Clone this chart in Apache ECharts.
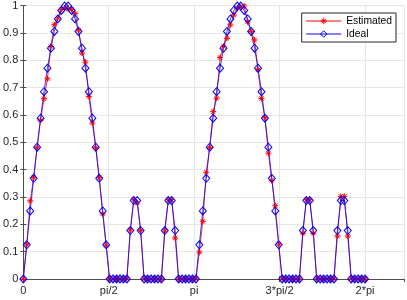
<!DOCTYPE html>
<html>
<head>
<meta charset="utf-8">
<script src="https://cdn.jsdelivr.net/npm/echarts@6/dist/echarts.min.js"></script>
<style>
html,body{margin:0;padding:0;background:#fff;}
#chart{width:407px;height:300px;}
</style>
</head>
<body>
<div id="chart"></div>
<script>
// sample positions (radians)
const xValues = [
0,0.0635,0.1269,0.1904,0.2539,0.3173,0.3808,0.4443,0.5077,0.5712,
0.6347,0.6981,0.7616,0.8251,0.8885,0.9520,1.0155,1.0789,1.1424,1.2059,
1.2693,1.3328,1.3963,1.4597,1.5232,1.5867,1.6501,1.7136,1.7771,1.8405,
1.9040,1.9675,2.0309,2.0944,2.1579,2.2213,2.2848,2.3483,2.4117,2.4752,
2.5387,2.6021,2.6656,2.7291,2.7925,2.8560,2.9195,2.9829,3.0464,3.1099,
3.1733,3.2368,3.3003,3.3637,3.4272,3.4907,3.5541,3.6176,3.6811,3.7445,
3.8080,3.8715,3.9349,3.9984,4.0619,4.1253,4.1888,4.2523,4.3157,4.3792,
4.4427,4.5061,4.5696,4.6331,4.6965,4.7600,4.8235,4.8869,4.9504,5.0139,
5.0773,5.1408,5.2043,5.2677,5.3312,5.3947,5.4581,5.5216,5.5851,5.6485,
5.7120,5.7755,5.8389,5.9024,5.9659,6.0293,6.0928,6.1563,6.2197,6.2832
];
const estimated = [
0,0.125,0.286,0.37,0.48,0.58,0.659,0.732,0.85,0.93,
0.955,0.985,0.99,0.988,0.985,0.971,0.91,0.826,0.793,0.667,
0.57,0.48,0.37,0.238,0.123,0,0,0,0,0,
0,0.18,0.29,0.278,0.178,0,0,0,0,0,
0,0.175,0.29,0.29,0.15,0,0,0,0,0,
0,0.098,0.211,0.39,0.48,0.612,0.661,0.81,0.85,0.88,
0.929,0.965,0.99,0.995,0.998,0.94,0.905,0.874,0.765,0.66,
0.59,0.46,0.36,0.268,0.128,0,0,0,0,0,
0,0.167,0.29,0.29,0.167,0,0,0,0,0,
0,0.157,0.302,0.302,0.157,0,0,0,0,0
];
const ideal = [
0,0.125,0.249,0.368,0.482,0.588,0.685,0.771,0.844,0.905,
0.951,0.982,0.998,0.998,0.982,0.951,0.905,0.844,0.771,0.685,
0.588,0.482,0.368,0.249,0.125,0,0,0,0,0,
0,0.177,0.287,0.287,0.177,0,0,0,0,0,
0,0.177,0.287,0.287,0.177,0,0,0,0,0,
0,0.125,0.249,0.368,0.482,0.588,0.685,0.771,0.844,0.905,
0.951,0.982,0.998,0.998,0.982,0.951,0.905,0.844,0.771,0.685,
0.588,0.482,0.368,0.249,0.125,0,0,0,0,0,
0,0.177,0.287,0.287,0.177,0,0,0,0,0,
0,0.177,0.287,0.287,0.177,0,0,0,0,0
];
const xTickLabels = ['0','pi/2','pi','3*pi/2','2*pi'];
const seriesNames = ['Estimated','Ideal'];

const estData = xValues.map((x,i)=>[x, estimated[i]]);
const idealData = xValues.map((x,i)=>[x, ideal[i]]);

const FONT = '"Liberation Sans", Arial, Helvetica, sans-serif';
const AX = '#4d4d4d';
const GRID = '#e6e6e6';
const HALF_PI = Math.PI/2;
const RED = '#ff0000', BLUE = '#0000ff';

function xFmt(v){
  const k = Math.round(v/HALF_PI);
  if (Math.abs(v - k*HALF_PI) > 1e-6 || k < 0 || k >= xTickLabels.length) return '';
  return xTickLabels[k];
}

const star = 'path://M5,0L5,10M0,5L10,5M1.5,1.5L8.5,8.5M1.5,8.5L8.5,1.5';
const hollow = c => ({color:'rgba(0,0,0,0)', borderColor:c, borderWidth:1});

const chart = echarts.init(document.getElementById('chart'), null, {renderer:'canvas'});
chart.setOption({
  animation:false,
  backgroundColor:'#fff',
  grid:{left:22, top:5, width:382, height:274},
  legend:{
    data:[
      {name:seriesNames[0], itemStyle:hollow(RED), lineStyle:{color:RED, width:1}},
      {name:seriesNames[1], itemStyle:hollow(BLUE), lineStyle:{color:BLUE, width:1}}
    ],
    orient:'vertical',
    right:11, top:13,
    backgroundColor:'#fff',
    borderColor:'#262626', borderWidth:1,
    padding:[3,4,3,4],
    itemWidth:35, itemHeight:8, itemGap:3,
    textStyle:{fontFamily:FONT, fontSize:10.3, color:'#000'}
  },
  xAxis:[{
    type:'value', min:0, max:7, interval:HALF_PI,
    axisLine:{show:true, lineStyle:{color:AX, width:1}},
    axisTick:{show:true, inside:true, length:3, lineStyle:{color:AX}},
    axisLabel:{formatter:xFmt, fontFamily:FONT, fontSize:11, color:'#262626', margin:6, showMaxLabel:false},
    splitLine:{show:true, lineStyle:{color:GRID, width:1}}
  },{
    type:'value', min:0, max:7, interval:HALF_PI, position:'top',
    axisLine:{show:true, lineStyle:{color:AX, width:1}},
    axisTick:{show:true, inside:true, length:3, lineStyle:{color:AX}},
    axisLabel:{show:false}, splitLine:{show:false}
  }],
  yAxis:[{
    type:'value', min:0, max:1, interval:0.1,
    axisLine:{show:true, lineStyle:{color:AX, width:1}},
    axisTick:{show:true, inside:true, length:3, lineStyle:{color:AX}},
    axisLabel:{fontFamily:FONT, fontSize:11, color:'#262626', margin:5,
      formatter:v=>String(Math.round(v*10)/10)},
    splitLine:{show:true, lineStyle:{color:GRID, width:1}}
  },{
    type:'value', min:0, max:1, interval:0.1, position:'right',
    axisLine:{show:true, lineStyle:{color:AX, width:1}},
    axisTick:{show:true, inside:true, length:3, lineStyle:{color:AX}},
    axisLabel:{show:false}, splitLine:{show:false}
  }],
  series:[{
    name:seriesNames[0], type:'line', data:estData,
    xAxisIndex:0, yAxisIndex:0,
    showAllSymbol:true, symbol:star, symbolSize:6,
    color:RED,
    lineStyle:{color:RED, width:0.8},
    itemStyle:hollow(RED)
  },{
    name:seriesNames[1], type:'line', data:idealData,
    xAxisIndex:0, yAxisIndex:0,
    showAllSymbol:true, symbol:'diamond', symbolSize:[7,8],
    color:BLUE,
    lineStyle:{color:BLUE, width:0.8},
    itemStyle:hollow(BLUE)
  }]
});
</script>
</body>
</html>
